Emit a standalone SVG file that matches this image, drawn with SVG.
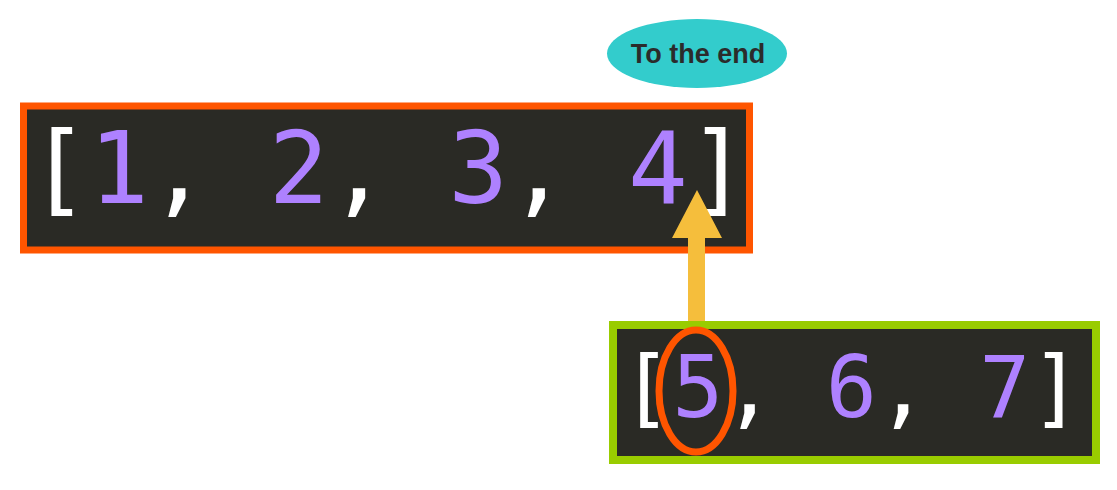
<svg xmlns="http://www.w3.org/2000/svg" width="1117" height="490" viewBox="0 0 1117 490">
<style>
.code{font-family:"DejaVu Sans Mono",monospace;fill:#FFFFFF}
.num{fill:#AE81FF}
.lbl{font-family:"Liberation Sans",Arial,sans-serif;font-weight:bold;font-size:27px;fill:#2B2B2B}
</style>
<rect width="1117" height="490" fill="#FFFFFF"/>
<g id="list1">
<rect x="23.5" y="106" width="726" height="144" fill="#2A2A25" stroke="#FF5500" stroke-width="7"/>
<text class="code" x="29" y="203" font-size="99.5" xml:space="preserve">[<tspan class="num">1</tspan>, <tspan class="num">2</tspan>, <tspan class="num">3</tspan>, <tspan class="num">4</tspan>]</text>
</g>
<g id="list2">
<rect x="613" y="325" width="483" height="135" fill="#2A2A25" stroke="#99CC00" stroke-width="8"/>
<text class="code" x="621" y="417" font-size="85" xml:space="preserve">[<tspan class="num">5</tspan>, <tspan class="num">6</tspan>, <tspan class="num">7</tspan>]</text>
<ellipse cx="696" cy="391" rx="37" ry="61" fill="none" stroke="#FF5500" stroke-width="7"/>
</g>
<g id="label">
<ellipse cx="697" cy="53.5" rx="90" ry="34.5" fill="#33CCCC"/>
<text class="lbl" x="698" y="63" text-anchor="middle">To the end</text>
</g>
<g id="connectors">
<polygon points="688,321 705,321 705,238 722,238 697,190 672,238 688,238" fill="#F5BE3C"/>
</g>
</svg>
